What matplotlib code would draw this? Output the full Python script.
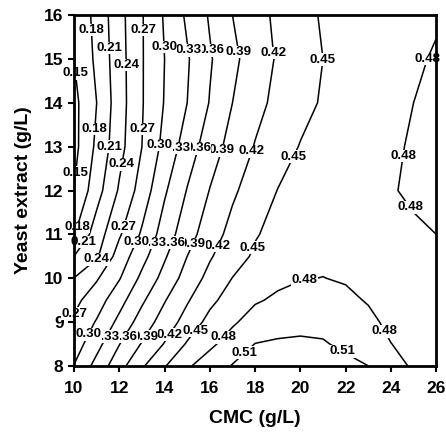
import numpy as np
import matplotlib
matplotlib.use("Agg")
import matplotlib.pyplot as plt

# CMC (g/L) on x, yeast extract (g/L) on y
cmc = [10, 11, 12, 13, 14, 15, 16, 17, 18, 19, 20, 21, 22, 23, 24, 25, 26]
yeast = [8, 8.5, 9, 9.5, 10, 10.5, 11, 12, 13, 14, 15, 16]

# response values, one row per yeast extract level
resp_y8 = [0.301, 0.340, 0.379, 0.416, 0.448, 0.476, 0.495, 0.5115, 0.5185, 0.522, 0.5235, 0.522, 0.518, 0.510, 0.493, 0.4755, 0.465]
resp_y8_5 = [0.285, 0.320, 0.359, 0.392, 0.4216, 0.453, 0.474, 0.493, 0.5105, 0.5135, 0.5145, 0.5125, 0.504, 0.499, 0.4805, 0.470, 0.464]
resp_y9 = [0.275, 0.3024, 0.3377, 0.3734, 0.4033, 0.4318, 0.459, 0.476, 0.492, 0.499, 0.502, 0.5015, 0.497, 0.488, 0.472, 0.466, 0.465]
resp_y9_5 = [0.262, 0.286, 0.319, 0.355, 0.388, 0.417, 0.443, 0.463, 0.477, 0.4844, 0.490, 0.491, 0.487, 0.4775, 0.4715, 0.466, 0.467]
resp_y10 = [0.2405, 0.267, 0.298, 0.3367, 0.370, 0.402, 0.4289, 0.4505, 0.466, 0.474, 0.4785, 0.4805, 0.477, 0.4735, 0.471, 0.468, 0.470]
resp_y10_5 = [0.210, 0.236, 0.283, 0.320, 0.3565, 0.390, 0.417, 0.438, 0.454, 0.463, 0.470, 0.4735, 0.4745, 0.4735, 0.4725, 0.472, 0.475]
resp_y11 = [0.178, 0.225, 0.2665, 0.304, 0.344, 0.3774, 0.4064, 0.4294, 0.448, 0.458, 0.465, 0.469, 0.472, 0.474, 0.476, 0.478, 0.480]
resp_y12 = [0.1505, 0.198, 0.2435, 0.2825, 0.326, 0.3615, 0.391, 0.4152, 0.4341, 0.4506, 0.4563, 0.462, 0.4677, 0.4734, 0.4791, 0.482, 0.484]
resp_y13 = [0.141, 0.186, 0.230, 0.270, 0.309, 0.344, 0.3757, 0.4007, 0.4216, 0.4374, 0.4513, 0.4575, 0.4638, 0.470, 0.4763, 0.4825, 0.487]
resp_y14 = [0.142, 0.180, 0.227, 0.268, 0.3015, 0.330, 0.3615, 0.390, 0.411, 0.4277, 0.4416, 0.4527, 0.4595, 0.4664, 0.4732, 0.480, 0.485]
resp_y15 = [0.1502, 0.186, 0.228, 0.268, 0.300, 0.327, 0.357, 0.383, 0.405, 0.423, 0.437, 0.450, 0.4565, 0.463, 0.4695, 0.476, 0.4826]
resp_y16 = [0.155, 0.189, 0.230, 0.268, 0.303, 0.335, 0.363, 0.390, 0.409, 0.426, 0.440, 0.453, 0.459, 0.464, 0.469, 0.473, 0.477]

levels = [0.15, 0.18, 0.21, 0.24, 0.27, 0.30, 0.33, 0.36, 0.39, 0.42, 0.45, 0.48, 0.51]
x_ticks = [10, 12, 14, 16, 18, 20, 22, 24, 26]
y_ticks = [8, 9, 10, 11, 12, 13, 14, 15, 16]

plt.rcParams['font.family'] = ['Liberation Sans', 'DejaVu Sans']
plt.rcParams['font.weight'] = 'bold'

fig = plt.figure(figsize=(4.46, 4.34), dpi=100)
ax = fig.add_axes([0.166, 0.157, 0.812, 0.808])

Z = np.array([resp_y8, resp_y8_5, resp_y9, resp_y9_5, resp_y10, resp_y10_5,
              resp_y11, resp_y12, resp_y13, resp_y14, resp_y15, resp_y16])
cs = ax.contour(cmc, yeast, Z, levels=levels, colors='black', linewidths=1.1)

# where the labels sit on the lines (roughly as in the original)
label_spots = [
    (10.15, 14.68), (10.8, 15.66), (11.55, 15.25), (12.3, 14.86), (13.05, 15.66),
    (14.0, 15.27), (15.1, 15.2), (16.1, 15.2), (17.3, 15.16), (18.75, 15.13),
    (21.05, 14.98), (25.6, 15.0),
    (10.2, 12.4), (10.93, 13.4), (11.6, 13.0), (12.1, 12.6), (13.05, 13.4),
    (13.75, 13.04), (14.7, 12.95), (15.55, 12.95), (16.6, 12.9), (17.8, 12.9),
    (19.6, 12.8), (24.75, 12.77),
    (10.27, 11.15), (10.55, 10.78), (11.0, 10.42), (12.25, 11.17), (12.75, 10.83),
    (13.75, 10.75), (14.65, 10.75), (15.4, 10.75), (16.4, 10.72), (17.9, 10.7),
    (20.2, 9.9), (24.8, 11.6),
    (10.3, 9.1), (10.6, 8.73), (11.5, 8.65), (12.25, 8.65), (13.2, 8.65),
    (14.3, 8.68), (15.35, 8.8), (16.6, 8.64), (17.55, 8.3), (21.9, 8.37),
    (23.7, 8.78),
]
# right ones first so the left label boxes end up on top
label_spots = sorted(label_spots, key=lambda p: -p[0])
texts = cs.clabel(manual=label_spots, inline=False, fmt='%.2f', fontsize=9.5)
for t in texts:
    t.set_rotation(0)
    t.set_fontweight('bold')
    t.set_clip_on(False)
    t.set_zorder(2.2)  # over the lines, under the frame
    t.set_bbox(dict(facecolor='white', edgecolor='none', pad=0.2))

ax.set_xlim(10, 26)
ax.set_ylim(8, 16)
ax.set_xticks(x_ticks)
ax.set_yticks(y_ticks)
ax.tick_params(direction='out', length=4, width=1.5, labelsize=12.5)
ax.tick_params(axis='x', pad=7)
for side in ['left', 'bottom', 'top', 'right']:
    ax.spines[side].set_linewidth(2)

ax.set_xlabel('CMC (g/L)', fontsize=14, fontweight='bold', labelpad=10)
ax.set_ylabel('Yeast extract (g/L)', fontsize=14, fontweight='bold', labelpad=9)

plt.savefig('out.png', dpi=100)
plt.close()
